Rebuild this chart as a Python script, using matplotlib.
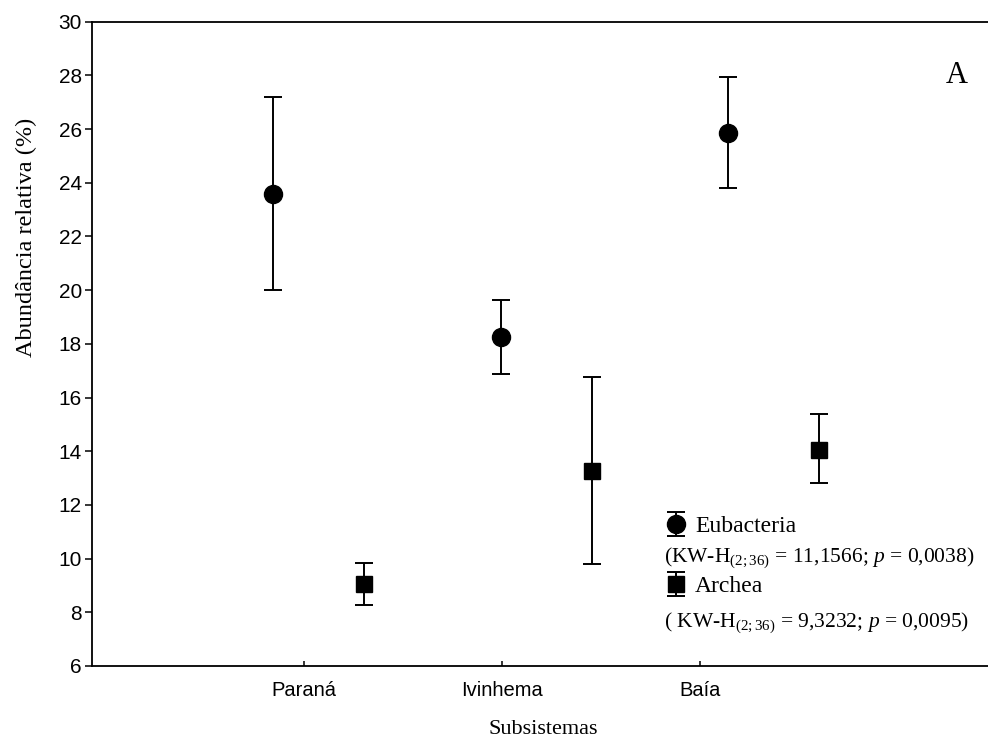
import matplotlib
matplotlib.use("Agg")
import matplotlib.pyplot as plt

# Abundância relativa média (%) e limites do intervalo por subsistema
subsistemas = ["Paraná", "Ivinhema", "Baía"]

eub_media = [23.60, 18.25, 25.87]
eub_sup = [27.20, 19.63, 27.95]
eub_inf = [20.00, 16.87, 23.82]

arq_media = [9.05, 13.27, 14.06]
arq_sup = [9.83, 16.76, 15.38]
arq_inf = [8.28, 9.81, 12.82]

kw_eub = r"(KW-H$_{(2;36)}$ = 11,1566; $\it{p}$ = 0,0038)"
kw_arq = r"( KW-H$_{(2;36)}$ = 9,3232; $\it{p}$ = 0,0095)"

plt.rcParams["mathtext.fontset"] = "custom"
plt.rcParams["mathtext.rm"] = "Liberation Serif"
plt.rcParams["mathtext.it"] = "Liberation Serif:italic"

sans = "Liberation Sans"
serif = "Liberation Serif"

fig = plt.figure(figsize=(9.88, 7.38), dpi=100)
ax = fig.add_axes([0.0928, 0.0976, 0.915, 0.873])

pos = [1, 2, 3]
x_eub = [0.843, 1.995, 3.14]
x_arq = [1.303, 2.455, 3.60]

def barras(media, sup, inf):
    baixo = [m - i for m, i in zip(media, inf)]
    cima = [s - m for s, m in zip(sup, media)]
    return [baixo, cima]

h_eub = ax.errorbar(x_eub, eub_media, yerr=barras(eub_media, eub_sup, eub_inf),
                    fmt="o", color="black", markersize=13, capsize=6.5,
                    elinewidth=1.4, capthick=1.4, label="Eubacteria")
h_arq = ax.errorbar(x_arq, arq_media, yerr=barras(arq_media, arq_sup, arq_inf),
                    fmt="s", color="black", markersize=12, capsize=6.5,
                    elinewidth=1.4, capthick=1.4, label="Archea")

ax.set_ylim(6, 30)
ax.set_xlim(-0.072, 4.494)
ax.set_yticks(range(6, 31, 2))
ax.set_xticks(pos)
ax.set_xticklabels(subsistemas)

for s in ax.spines.values():
    s.set_linewidth(1.3)
ax.spines["right"].set_visible(False)

ax.tick_params(axis="y", direction="out", length=5, width=1.1, pad=2,
               labelsize=15)
ax.tick_params(axis="x", direction="in", length=3.5, width=1.1, pad=11,
               labelsize=14.5)
for lab in ax.get_xticklabels() + ax.get_yticklabels():
    lab.set_fontfamily(sans)

ax.set_xlabel("Subsistemas", fontfamily=serif, fontsize=16, labelpad=14)
ax.set_ylabel("Abundância relativa (%)", fontfamily=serif, fontsize=17.5)
ax.yaxis.set_label_coords(-0.06, 0.666)

ax.text(0.969, 0.916, "A", transform=ax.transAxes, fontfamily=serif,
        fontsize=22, ha="right", va="center")

leg = ax.legend(handles=[h_eub, h_arq], loc="center left",
                bbox_to_anchor=(0.623, 0.17), frameon=False,
                prop={"family": serif, "size": 17}, handlelength=0.8,
                handletextpad=0.4, labelspacing=1.62, borderpad=0)

ax.text(0.633, 0.168, kw_eub, transform=ax.transAxes, fontfamily=serif,
        fontsize=15.5, ha="left", va="center")
ax.text(0.633, 0.067, kw_arq, transform=ax.transAxes, fontfamily=serif,
        fontsize=15.5, ha="left", va="center")

fig.savefig("out.png", dpi=100)
